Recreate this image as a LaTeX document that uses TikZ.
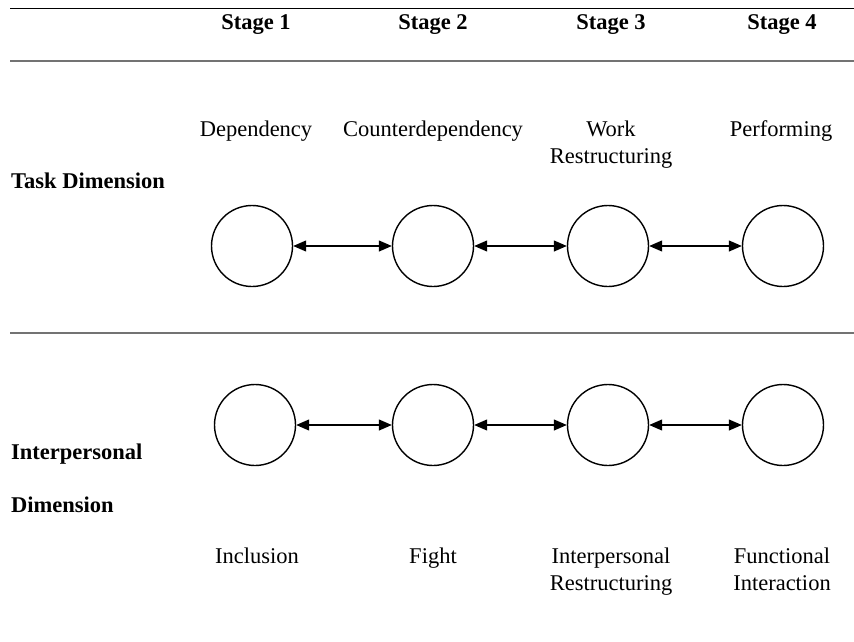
\documentclass[tikz,border=0pt]{standalone}
\usepackage{fontspec}
\setmainfont{Liberation Serif}
\usetikzlibrary{arrows.meta}
\begin{document}
\begin{tikzpicture}[x=1pt,y=-1pt,
  every node/.style={font=\fontsize{22.5}{27}\selectfont, inner sep=0pt, align=center},
  label/.style={anchor=base},
  stagecircle/.style={draw, circle, line width=1.4pt, minimum size=81pt},
  stagehead/.style={anchor=base, font=\fontsize{22.5}{27}\selectfont\bfseries},
  dimlabel/.style={font=\fontsize{22.5}{27}\selectfont\bfseries, anchor=base west},
  rule/.style={draw=black!55, line width=1.6pt},
  link/.style={line width=1.2pt, {Triangle[length=13pt,width=11pt]}-{Triangle[length=13pt,width=11pt]}}]
\useasboundingbox (0,0) rectangle (854,642);

% table rules
\draw[line width=0.8pt] (10,8) -- (854,8);
\draw[rule] (10,61) -- (854,61);
\draw[rule] (10,333) -- (854,333);

% column headings
\node[stagehead] (s1) at (256,30) {Stage 1};
\node[stagehead] (s2) at (433,30) {Stage 2};
\node[stagehead] (s3) at (611,30) {Stage 3};
\node[stagehead] (s4) at (782,30) {Stage 4};

% task dimension (two-line labels are placed by their last baseline)
\node[dimlabel] (task) at (11,188) {Task Dimension};
\node[label] (tl1) at (256,136) {Dependency};
\node[label] (tl2) at (433,136) {Counterdependency};
\node[label] (tl3) at (611,163) {Work\\Restructuring};
\node[label] (tl4) at (781,136) {Performing};

\node[stagecircle] (t1) at (252,246) {};
\node[stagecircle] (t2) at (433,246) {};
\node[stagecircle] (t3) at (608,246) {};
\node[stagecircle] (t4) at (783,246) {};
\draw[link] (t1) -- (t2);
\draw[link] (t2) -- (t3);
\draw[link] (t3) -- (t4);

% interpersonal dimension
\node[dimlabel] (ip1) at (11,459) {Interpersonal};
\node[dimlabel] (ip2) at (11,512) {Dimension};

\node[stagecircle] (i1) at (255,425) {};
\node[stagecircle] (i2) at (433,425) {};
\node[stagecircle] (i3) at (608,425) {};
\node[stagecircle] (i4) at (783,425) {};
\draw[link] (i1) -- (i2);
\draw[link] (i2) -- (i3);
\draw[link] (i3) -- (i4);

\node[label] (il1) at (257,563) {Inclusion};
\node[label] (il2) at (433,563) {Fight};
\node[label] (il3) at (611,590) {Interpersonal\\Restructuring};
\node[label] (il4) at (782,590) {Functional\\Interaction};
\end{tikzpicture}
\end{document}
